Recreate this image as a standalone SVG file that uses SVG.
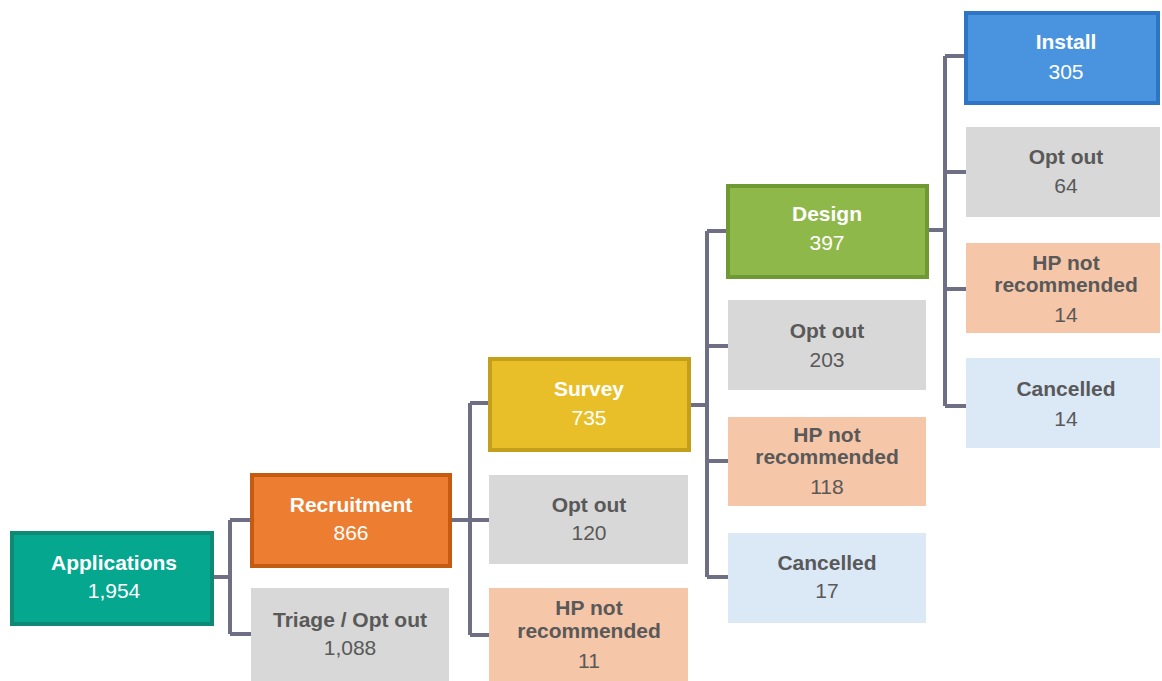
<svg xmlns="http://www.w3.org/2000/svg" width="1162" height="681" viewBox="0 0 1162 681">
<style>
text{font-family:"Liberation Sans",Arial,sans-serif;font-size:21px;text-anchor:middle}
.w{fill:#ffffff}
.d{fill:#595959}
.b{font-weight:bold}
.c{fill:none;stroke:#6e6e85;stroke-width:4;stroke-linejoin:miter}
.gray{fill:#d7d8d7}
.peach{fill:#f5c6a8}
.lblue{fill:#dbe8f6}
</style>
<rect width="1162" height="681" fill="#ffffff"/>
<g id="connectors">
<path class="c" d="M214 577H230M230 520V634M230 520H250M230 634H251"/>
<path class="c" d="M452 520H470M470 403V635M470 403H488M470 520H489M470 635H489"/>
<path class="c" d="M691 405H707M707 231V577M707 231H726M707 346H728M707 461H728M707 577H728"/>
<path class="c" d="M929 230H945M945 56V406M945 56H964M945 172H966M945 289H966M945 406H966"/>
</g>
<g id="applications">
<rect x="12" y="533" width="200" height="91" fill="#05a88f" stroke="#0e8a74" stroke-width="4"/>
<text class="w b" x="114" y="570">Applications</text>
<text class="w" x="114" y="598">1,954</text>
</g>
<g id="recruitment">
<rect x="252" y="475" width="198" height="91" fill="#ed7d31" stroke="#c55a11" stroke-width="4"/>
<text class="w b" x="351" y="512">Recruitment</text>
<text class="w" x="351" y="540">866</text>
</g>
<g id="triage">
<rect class="gray" x="251" y="588" width="198" height="93"/>
<text class="d b" x="350" y="627">Triage / Opt out</text>
<text class="d" x="350" y="655">1,088</text>
</g>
<g id="survey">
<rect x="490" y="359" width="199" height="91" fill="#e8bf28" stroke="#c4a01a" stroke-width="4"/>
<text class="w b" x="589" y="396">Survey</text>
<text class="w" x="589" y="425">735</text>
</g>
<g id="optout120">
<rect class="gray" x="489" y="475" width="199" height="89"/>
<text class="d b" x="589" y="512">Opt out</text>
<text class="d" x="589" y="540">120</text>
</g>
<g id="hp11">
<rect class="peach" x="489" y="588" width="199" height="93"/>
<text class="d b" x="589" y="615">HP not</text>
<text class="d b" x="589" y="638">recommended</text>
<text class="d" x="589" y="668">11</text>
</g>
<g id="design">
<rect x="728" y="186" width="199" height="91" fill="#8fb84b" stroke="#6f9a33" stroke-width="4"/>
<text class="w b" x="827" y="221">Design</text>
<text class="w" x="827" y="250">397</text>
</g>
<g id="optout203">
<rect class="gray" x="728" y="300" width="198" height="90"/>
<text class="d b" x="827" y="338">Opt out</text>
<text class="d" x="827" y="367">203</text>
</g>
<g id="hp118">
<rect class="peach" x="728" y="417" width="198" height="89"/>
<text class="d b" x="827" y="442">HP not</text>
<text class="d b" x="827" y="464">recommended</text>
<text class="d" x="827" y="494">118</text>
</g>
<g id="cancelled17">
<rect class="lblue" x="728" y="533" width="198" height="90"/>
<text class="d b" x="827" y="570">Cancelled</text>
<text class="d" x="827" y="598">17</text>
</g>
<g id="install">
<rect x="966" y="13" width="192" height="90" fill="#4a94df" stroke="#2e75c6" stroke-width="4"/>
<text class="w b" x="1066" y="49">Install</text>
<text class="w" x="1066" y="79">305</text>
</g>
<g id="optout64">
<rect class="gray" x="966" y="127" width="194" height="90"/>
<text class="d b" x="1066" y="164">Opt out</text>
<text class="d" x="1066" y="193">64</text>
</g>
<g id="hp14">
<rect class="peach" x="966" y="243" width="194" height="90"/>
<text class="d b" x="1066" y="270">HP not</text>
<text class="d b" x="1066" y="292">recommended</text>
<text class="d" x="1066" y="322">14</text>
</g>
<g id="cancelled14">
<rect class="lblue" x="966" y="358" width="194" height="90"/>
<text class="d b" x="1066" y="396">Cancelled</text>
<text class="d" x="1066" y="426">14</text>
</g>
</svg>
